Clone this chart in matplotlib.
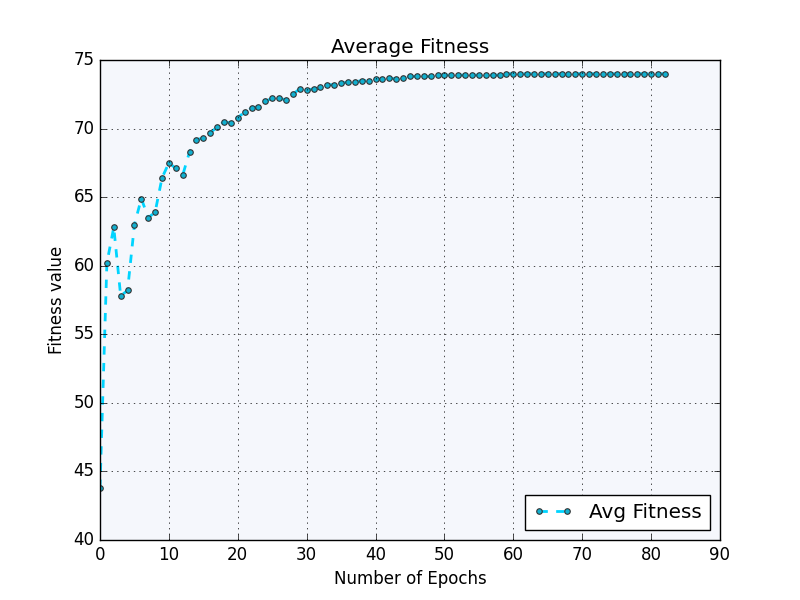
import numpy as np
import matplotlib
matplotlib.use('Agg')
from matplotlib import pyplot as plt

plt.style.use('classic')

# average fitness per epoch
fitness = [43.8, 60.2, 62.8, 57.8, 58.2, 63.0, 64.9, 63.5, 63.9, 66.4,
           67.5, 67.1, 66.6, 68.3, 69.2, 69.3, 69.7, 70.1, 70.5, 70.4,
           70.8, 71.2, 71.5, 71.6, 72.0, 72.2, 72.2, 72.1, 72.5, 72.9,
           72.8, 72.9, 73.0, 73.2, 73.2, 73.3, 73.4, 73.4, 73.5, 73.5,
           73.6, 73.6, 73.7, 73.6, 73.7, 73.8, 73.8, 73.8, 73.8, 73.9,
           73.9, 73.9, 73.9, 73.9, 73.9, 73.9, 73.9, 73.9, 73.9, 74.0,
           74.0, 74.0, 74.0, 74.0, 74.0, 74.0, 74.0, 74.0, 74.0, 74.0,
           74.0, 74.0, 74.0, 74.0, 74.0, 74.0, 74.0, 74.0, 74.0, 74.0,
           74.0, 74.0, 74.0]
epochs = np.arange(len(fitness))

fig = plt.figure(figsize=(8, 6), dpi=100, facecolor='white')
ax = fig.add_subplot(111)
ax.set_facecolor('#f5f7fc')
ax.plot(epochs, fitness, linestyle='--', color='#00d4ff', linewidth=2,
        marker='o', markersize=4, markerfacecolor='#10b0d0',
        markeredgecolor='#333333', markeredgewidth=0.8, label='Avg Fitness')
ax.set_xlim(0, 90)
ax.set_ylim(40, 75)
ax.grid(True, color='black', linestyle=':')
ax.set_title('Average Fitness')
ax.set_xlabel('Number of Epochs')
ax.set_ylabel('Fitness value')
ax.legend(loc='lower right')
plt.savefig('out.png', dpi=100)
